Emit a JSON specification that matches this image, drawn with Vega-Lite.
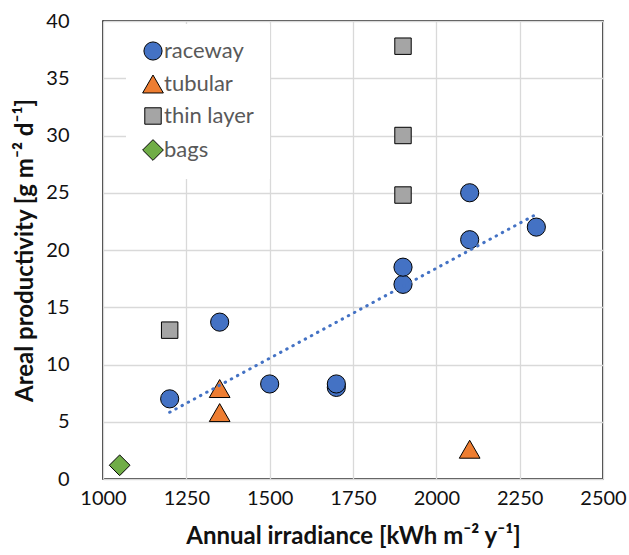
{
  "$schema": "https://vega.github.io/schema/vega-lite/v6.json",
  "width": 500,
  "height": 458,
  "autosize": "none",
  "padding": {"left": 103, "top": 21, "right": 26, "bottom": 76},
  "background": "white",
  "config": {
    "view": {"stroke": "black", "strokeWidth": 1.5},
    "font": "Lato",
    "axis": {
      "labelFont": "Lato", "labelFontSize": 20, "labelColor": "#111111", "labelFlush": false,
      "titleFont": "Lato", "titleFontSize": 24, "titleFontWeight": "bold", "titleColor": "#111111",
      "gridColor": "#d9d9d9", "gridWidth": 1.3, "ticks": false, "domain": false
    }
  },
  "data": {"values": [
    {"irr": 1200, "prod": 7.0, "type": "raceway"},
    {"irr": 1350, "prod": 13.7, "type": "raceway"},
    {"irr": 1500, "prod": 8.3, "type": "raceway"},
    {"irr": 1700, "prod": 8.0, "type": "raceway"},
    {"irr": 1700, "prod": 8.3, "type": "raceway"},
    {"irr": 1900, "prod": 17.0, "type": "raceway"},
    {"irr": 1900, "prod": 18.5, "type": "raceway"},
    {"irr": 2100, "prod": 25.0, "type": "raceway"},
    {"irr": 2100, "prod": 20.9, "type": "raceway"},
    {"irr": 2300, "prod": 22.0, "type": "raceway"},
    {"irr": 1350, "prod": 7.9, "type": "tubular"},
    {"irr": 1350, "prod": 5.8, "type": "tubular"},
    {"irr": 2100, "prod": 2.6, "type": "tubular"},
    {"irr": 1200, "prod": 13.0, "type": "thin layer"},
    {"irr": 1900, "prod": 37.8, "type": "thin layer"},
    {"irr": 1900, "prod": 30.0, "type": "thin layer"},
    {"irr": 1900, "prod": 24.8, "type": "thin layer"},
    {"irr": 1050, "prod": 1.2, "type": "bags"}
  ]},
  "layer": [
    {
      "mark": {"type": "point", "filled": true, "stroke": "black", "strokeWidth": 1, "opacity": 1},
      "encoding": {
        "x": {"field": "irr", "type": "quantitative", "scale": {"domain": [1000, 2500], "nice": false},
              "axis": {"values": [1000, 1250, 1500, 1750, 2000, 2250, 2500], "format": "d", "labelPadding": 9, "titlePadding": 16,
                       "title": "Annual irradiance [kWh m⁻² y⁻¹]"}},
        "y": {"field": "prod", "type": "quantitative", "scale": {"domain": [0, 40], "nice": false},
              "axis": {"values": [0, 5, 10, 15, 20, 25, 30, 35, 40], "labelPadding": 34, "titlePadding": 8,
                       "title": "Areal productivity [g m⁻² d⁻¹]"}},
        "color": {"field": "type", "type": "nominal",
                  "scale": {"domain": ["raceway", "tubular", "thin layer", "bags"], "range": ["#4472C4", "#ED7D31", "#A5A5A5", "#70AD47"]},
                  "legend": {"title": null, "orient": "none", "legendX": 23, "legendY": 3, "fillColor": "white", "padding": 16,
                             "labelFontSize": 22, "labelFont": "Lato", "labelColor": "#595959", "symbolSize": 160,
                             "symbolStrokeColor": "black", "symbolStrokeWidth": 1, "rowPadding": 10, "labelOffset": 0}},
        "shape": {"field": "type", "type": "nominal",
                  "scale": {"domain": ["raceway", "tubular", "thin layer", "bags"], "range": ["circle", "triangle-up", "square", "diamond"]},
                  "legend": null},
        "size": {"field": "type", "type": "nominal",
                 "scale": {"type": "ordinal", "domain": ["raceway", "tubular", "thin layer", "bags"], "range": [330, 430, 270, 430]},
                 "legend": null}
      }
    },
    {
      "transform": [
        {"filter": "datum.type === 'raceway'"},
        {"regression": "prod", "on": "irr"}
      ],
      "mark": {"type": "line", "color": "#4472C4", "strokeWidth": 3, "strokeCap": "round", "strokeDash": [0.5, 6.5]},
      "encoding": {
        "x": {"field": "irr", "type": "quantitative"},
        "y": {"field": "prod", "type": "quantitative"}
      }
    }
  ]
}
